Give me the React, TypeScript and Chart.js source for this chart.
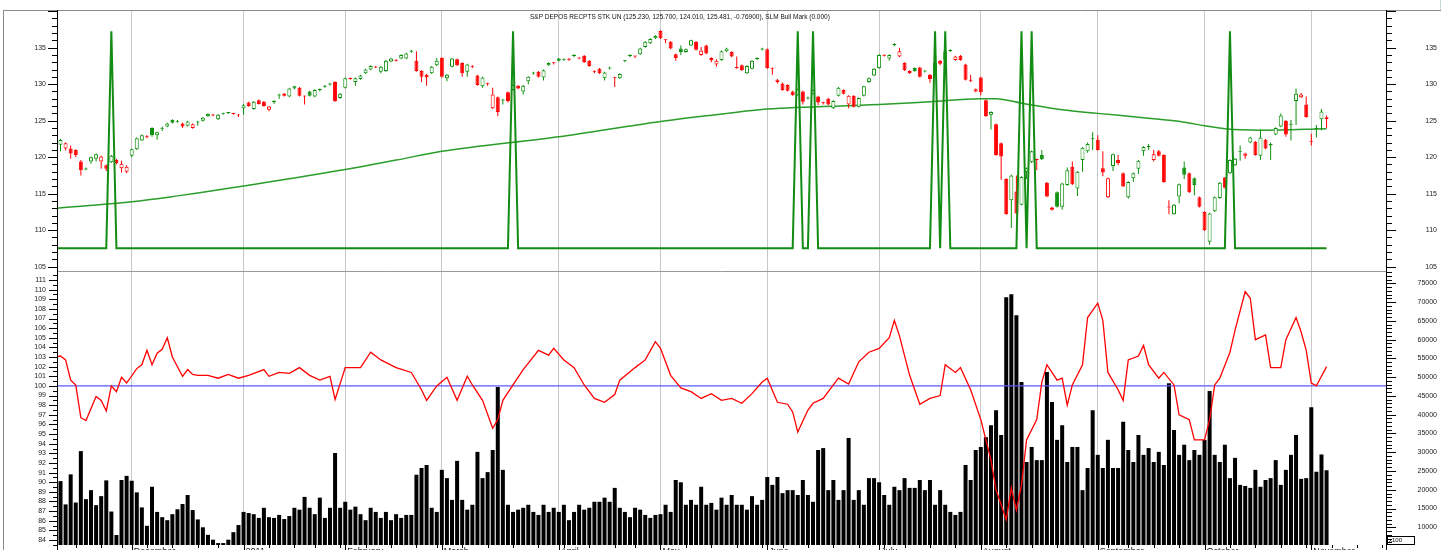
import React, { useEffect, useRef } from "react";
import { Chart, registerables } from "chart.js";

Chart.register(...registerables);

// ---------------- DATA ----------------
const TITLE =
  "S&P DEPOS RECPTS STK UN (125.230, 125.700, 124.010, 125.481, -0.76900), SLM Bull Mark (0.000)";

const FIRST_TRADING_DAY = [2010, 10, 9]; // 9 Nov 2010 (UTC y, m0, d)
const HOLIDAYS = [
  "2010-11-25", "2010-12-24", "2011-01-17", "2011-02-21", "2011-04-22",
  "2011-05-30", "2011-07-04", "2011-09-05", "2011-11-24",
];

const MONTH_LABELS = [
  "December", "2011", "February", "March", "April", "May", "June",
  "July", "August", "September", "October", "November",
];
const MONTH_START_IDX = [15, 37, 57, 76, 99, 119, 140, 162, 182, 205, 226, 247];

const PRICE_TICKS = [105, 110, 115, 120, 125, 130, 135];
const OSC_TICKS = [84, 85, 86, 87, 88, 89, 90, 91, 92, 93, 94, 95, 96, 97, 98, 99, 100,
  101, 102, 103, 104, 105, 106, 107, 108, 109, 110, 111];
const VOL_TICKS = [10000, 15000, 20000, 25000, 30000, 35000, 40000, 45000, 50000,
  55000, 60000, 65000, 70000, 75000];

const OPEN = [
  122.9, 121.7, 121.2, 121.2, 121.0, 119.4, 118.3, 119.4, 119.8, 119.4,
  118.9, 119.3, 119.6, 118.5, 118.0, 120.2, 121.1, 122.3, 122.85, 124.0,
  123.0, 123.9, 124.2, 125.1, 124.85, 124.6, 124.3, 124.0, 124.75, 125.0,
  125.6, 125.75, 125.2, 125.95, 126.05, 125.95, 125.75, 126.7, 127.5, 126.6,
  127.8, 127.6, 126.5, 127.55, 128.45, 128.7, 128.3, 129.4, 129.5, 128.35,
  129.0, 128.3, 129.2, 129.65, 129.95, 130.3, 128.1, 129.5, 130.75, 130.3,
  130.7, 131.5, 132.0, 132.35, 131.7, 131.8, 133.1, 133.25, 133.5, 133.5,
  134.45, 133.2, 131.8, 131.3, 131.5, 132.6, 133.6, 130.8, 132.4, 133.4,
  132.9, 131.7, 132.45, 131.2, 129.7, 130.05, 126.7, 128.2, 127.75, 128.9,
  129.2, 129.8, 129.0, 130.4, 131.45, 131.7, 130.9, 132.6, 132.9, 133.5,
  133.35, 133.4, 133.85, 133.55, 133.9, 133.2, 131.75, 132.1, 130.8, 132.15,
  130.85, 130.8, 133.15, 133.85, 133.85, 134.1, 135.1, 135.6, 136.3, 137.3,
  136.05, 135.8, 134.1, 134.9, 134.4, 135.3, 135.8, 134.0, 135.3, 133.6,
  132.7, 133.3, 134.5, 134.4, 132.25, 132.6, 131.5, 132.1, 133.45, 134.75,
  134.8, 132.15, 130.3, 130.1, 129.9, 129.0, 128.5, 129.0, 128.05, 128.7,
  128.3, 127.45, 128.0, 126.7, 128.4, 129.2, 127.2, 128.4, 126.9, 128.4,
  130.3, 131.2, 132.2, 133.95, 133.5, 135.35, 133.8, 132.9, 131.8, 132.2,
  132.3, 131.75, 131.3, 131.3, 133.2, 133.3, 134.55, 133.3, 133.9, 132.7,
  130.45, 129.0, 130.9, 127.8, 125.8, 124.5, 121.9, 117.0, 114.1, 115.3,
  113.5, 118.0, 119.3, 119.65, 120.3, 116.5, 113.1, 115.2, 113.2, 116.2,
  118.7, 115.7, 119.6, 120.8, 122.45, 122.4, 118.5, 114.5, 118.8, 119.6,
  117.8, 114.5, 117.1, 118.4, 120.8, 121.4, 119.6, 120.8, 120.3, 113.15,
  112.2, 114.6, 118.6, 117.8, 117.1, 114.5, 112.5, 108.4, 112.6, 114.4,
  117.2, 117.8, 118.9, 120.75, 120.2, 122.0, 122.1, 120.2, 122.4, 121.6,
  123.1, 124.2, 125.0, 124.45, 127.7, 128.2, 127.2, 122.15, 123.85, 125.2,
  125.23,
];
const HIGH = [
  123.2, 122.5, 122.0, 121.6, 121.1, 119.6, 118.6, 120.1, 120.5, 120.2,
  119.0, 120.3, 119.8, 119.5, 118.9, 121.2, 122.7, 123.1, 123.0, 124.1,
  123.5, 124.2, 124.7, 125.2, 125.1, 124.7, 125.0, 124.6, 125.0, 125.5,
  126.0, 125.9, 125.9, 126.1, 126.2, 126.1, 125.9, 127.3, 127.6, 127.7,
  127.9, 127.7, 127.0, 127.8, 128.7, 128.8, 129.5, 129.8, 129.6, 128.4,
  129.1, 129.3, 129.4, 129.9, 130.2, 130.4, 128.8, 130.9, 130.9, 130.9,
  131.3, 132.1, 132.6, 132.5, 132.5, 133.3, 133.6, 133.4, 134.1, 134.3,
  134.7, 134.5, 131.9, 131.4, 132.5, 133.6, 133.7, 131.4, 133.6, 133.5,
  133.0, 132.8, 132.6, 131.3, 131.0, 130.2, 129.5, 128.3, 128.0, 129.0,
  130.0, 129.9, 129.9, 131.1, 131.7, 131.8, 132.0, 133.0, 133.0, 133.6,
  133.5, 133.6, 134.1, 133.7, 134.0, 133.3, 131.9, 132.2, 131.7, 132.4,
  131.0, 131.5, 133.3, 134.1, 133.9, 135.0, 135.9, 136.3, 136.7, 137.4,
  136.2, 135.9, 134.2, 135.3, 134.9, 136.1, 135.9, 135.1, 135.4, 133.7,
  133.4, 134.6, 135.0, 134.5, 133.8, 132.7, 132.6, 133.3, 133.7, 135.0,
  134.9, 132.3, 130.7, 130.2, 130.0, 129.1, 129.4, 129.1, 128.3, 129.3,
  128.4, 127.6, 128.1, 127.8, 129.6, 129.3, 128.5, 128.5, 128.2, 129.8,
  130.9, 132.2, 134.1, 134.1, 134.1, 135.6, 135.0, 133.0, 131.9, 132.3,
  132.4, 131.9, 131.4, 133.0, 133.3, 134.6, 134.8, 133.9, 134.0, 132.8,
  131.3, 129.4, 131.0, 127.9, 126.3, 124.6, 122.0, 117.1, 117.6, 117.5,
  117.4, 118.6, 120.9, 119.8, 121.0, 116.6, 113.2, 115.3, 116.5, 118.6,
  119.4, 118.1, 121.4, 122.0, 123.4, 123.0, 120.8, 117.2, 120.5, 120.3,
  117.9, 116.7, 117.9, 119.6, 121.5, 121.8, 121.0, 121.0, 120.4, 114.1,
  113.6, 116.4, 119.4, 117.9, 117.2, 114.6, 112.6, 112.4, 114.6, 116.6,
  117.3, 119.7, 119.9, 121.6, 120.6, 122.8, 122.2, 123.8, 122.5, 122.0,
  124.1, 126.0, 125.1, 125.1, 129.4, 128.8, 128.3, 123.2, 124.4, 126.6,
  125.7,
];
const LOW = [
  121.4, 120.8, 120.9, 119.8, 120.0, 117.5, 118.2, 119.1, 119.4, 118.4,
  118.1, 119.2, 119.0, 117.9, 117.8, 120.0, 121.0, 122.2, 122.6, 122.8,
  122.4, 123.6, 124.1, 124.6, 124.7, 124.0, 124.2, 123.9, 124.3, 124.9,
  125.5, 125.6, 125.1, 125.8, 125.9, 125.8, 125.5, 125.8, 126.9, 126.5,
  127.2, 126.9, 126.3, 127.3, 128.0, 128.3, 128.2, 129.3, 128.3, 127.2,
  128.3, 128.2, 129.0, 129.5, 129.8, 127.6, 128.0, 129.4, 130.6, 129.8,
  130.6, 131.4, 131.9, 132.2, 131.5, 131.7, 133.0, 133.1, 133.4, 133.4,
  134.3, 131.7, 130.3, 129.8, 131.4, 132.5, 130.9, 130.4, 132.3, 132.5,
  131.0, 131.0, 132.2, 129.8, 129.5, 129.8, 126.6, 125.6, 127.2, 127.5,
  129.1, 129.3, 128.6, 130.0, 131.3, 130.9, 130.5, 132.5, 132.7, 133.1,
  133.2, 133.2, 133.7, 133.4, 132.9, 132.4, 131.5, 131.4, 130.5, 132.0,
  129.6, 130.7, 133.0, 133.7, 133.6, 134.0, 135.0, 135.5, 136.2, 136.2,
  135.6, 134.8, 133.2, 134.0, 134.3, 135.2, 134.6, 133.9, 134.1, 133.0,
  132.4, 133.2, 134.4, 133.7, 132.1, 131.8, 131.4, 132.0, 133.3, 134.6,
  132.1, 131.3, 130.1, 129.1, 129.0, 128.4, 128.4, 127.2, 127.9, 128.6,
  127.1, 127.2, 127.1, 126.6, 128.3, 128.6, 126.7, 126.8, 126.8, 128.3,
  130.2, 131.1, 132.1, 133.8, 133.2, 135.2, 133.7, 131.8, 131.4, 131.7,
  130.9, 131.6, 130.2, 131.2, 132.6, 133.2, 134.4, 133.2, 133.2, 130.5,
  130.3, 128.9, 128.5, 125.5, 123.8, 120.2, 116.9, 112.1, 110.3, 112.2,
  113.4, 117.0, 119.2, 118.2, 119.6, 114.5, 112.7, 113.1, 112.8, 116.1,
  116.2, 114.7, 118.0, 120.6, 121.0, 120.9, 117.4, 114.4, 118.1, 118.9,
  115.9, 114.3, 116.6, 117.7, 120.2, 121.0, 119.4, 120.1, 116.5, 112.2,
  112.1, 113.7, 117.0, 115.1, 114.8, 113.1, 109.9, 108.0, 112.5, 114.3,
  115.7, 117.7, 118.8, 119.5, 119.8, 121.9, 120.2, 119.6, 121.1, 119.6,
  123.0, 124.1, 122.8, 122.3, 124.4, 128.1, 125.4, 121.6, 122.7, 123.7,
  124.01,
];
const CLOSE = [
  122.1, 122.35, 121.9, 120.5, 120.3, 118.2, 118.4, 120.0, 120.4, 120.1,
  118.4, 120.2, 119.2, 119.1, 118.7, 121.1, 122.6, 123.0, 122.8, 123.0,
  123.4, 124.0, 124.6, 124.7, 124.9, 124.2, 124.9, 124.5, 124.8, 125.4,
  125.9, 125.7, 125.8, 126.0, 126.1, 125.9, 125.7, 127.1, 127.0, 127.6,
  127.3, 127.0, 126.95, 127.6, 128.5, 128.4, 129.4, 129.7, 128.4, 128.3,
  128.4, 129.2, 129.25, 129.7, 130.0, 127.7, 128.7, 130.8, 130.7, 130.8,
  131.2, 132.0, 132.5, 132.3, 132.4, 133.2, 133.5, 133.2, 134.0, 134.2,
  134.5, 131.8, 131.0, 130.9, 132.4, 133.2, 131.0, 131.3, 133.5, 132.6,
  131.5, 132.7, 132.4, 129.9, 130.9, 130.0, 128.6, 126.2, 127.8, 127.7,
  129.9, 129.4, 129.8, 131.0, 131.5, 131.0, 131.9, 132.9, 132.85, 133.2,
  133.4, 133.35, 133.9, 133.5, 133.0, 132.5, 131.7, 131.5, 131.6, 132.2,
  130.8, 131.4, 133.2, 133.9, 133.8, 134.9, 135.8, 136.2, 136.6, 136.3,
  136.0, 134.9, 133.6, 134.4, 134.8, 136.0, 134.7, 134.6, 134.2, 133.3,
  133.2, 134.5, 134.9, 133.8, 132.2, 131.9, 132.5, 133.2, 133.5, 134.8,
  132.2, 132.1, 130.6, 129.2, 129.1, 128.5, 129.3, 127.6, 128.1, 129.2,
  127.5, 127.4, 127.2, 127.7, 129.5, 128.7, 128.4, 126.9, 128.1, 129.7,
  130.8, 132.1, 134.0, 133.9, 134.0, 135.4, 134.5, 131.9, 131.5, 131.8,
  131.0, 131.8, 130.7, 132.9, 132.8, 134.5, 134.6, 133.8, 133.3, 130.6,
  130.4, 129.3, 128.9, 125.6, 126.2, 120.3, 120.1, 112.2, 117.5, 112.3,
  117.3, 118.5, 120.8, 119.6, 119.7, 114.6, 112.8, 113.2, 116.4, 118.2,
  116.3, 118.0, 121.3, 121.8, 122.5, 121.0, 117.9, 117.1, 120.4, 119.2,
  116.0, 116.6, 117.8, 119.5, 121.4, 121.45, 120.4, 120.2, 116.6, 113.1,
  113.5, 116.3, 117.6, 115.2, 116.2, 113.2, 110.0, 112.3, 114.5, 116.5,
  115.8, 119.6, 119.8, 120.8, 120.5, 122.7, 120.3, 122.7, 121.2, 121.8,
  124.0, 125.7, 123.1, 124.5, 128.7, 128.6, 125.5, 122.1, 123.9, 126.25,
  125.481,
];

// volume in hundreds of shares (axis labelled x100)
const VOLUME = [
  20000, 22300, 16100, 24100, 16600, 30300, 17500, 19900, 15900, 18300,
  22500, 14200, 7950, 22600, 23700, 22400, 19300, 15300, 10400, 20800,
  14100, 12700, 11900, 13500, 14800, 16200, 18600, 14600, 12100, 10000,
  8000, 6700, 5800, 5800, 6700, 8700, 10600, 14100, 13800, 13500,
  12500, 15200, 12700, 12500, 13300, 12200, 13000, 15200, 14700, 18100,
  15200, 13500, 17900, 12500, 15200, 29800, 15200, 16800, 14700, 15500,
  13500, 11900, 15200, 14100, 12500, 14100, 11900, 13500, 12500, 13300,
  13300, 24000, 25800, 26600, 15200, 14100, 25300, 23100, 17300, 27700,
  17300, 14700, 16000, 30100, 23100, 24700, 30600, 47400, 25300, 16000,
  14100, 14700, 15200, 16000, 14100, 13300, 16000, 14100, 15200, 14100,
  16000, 11900, 14100, 16000, 14700, 15200, 16800, 16800, 17900, 16800,
  20500, 15200, 14100, 12700, 15200, 14700, 13300, 12500, 13300, 13500,
  16000, 14100, 22600, 22000, 16000, 17300, 16000, 20800, 16000, 16500,
  14700, 17900, 16000, 18600, 16000, 16000, 14700, 18300, 16000, 17300,
  23400, 21300, 23400, 19100, 19900, 19900, 18600, 22600, 18600, 16800,
  30600, 31100, 19900, 22600, 17300, 19900, 33800, 17300, 19900, 16000,
  23100, 23100, 22000, 18600, 16000, 20800, 19900, 23100, 20500, 20500,
  22600, 19900, 22600, 16000, 19900, 16000, 14100, 13300, 14100, 26600,
  22600, 30600, 31400, 34000, 37200, 41200, 34600, 71300, 72100, 66500,
  48700, 27400, 31400, 27900, 27900, 51400, 43400, 33300, 37200, 27400,
  31400, 31400, 19900, 25800, 41200, 29300, 25800, 33300, 25800, 25800,
  38100, 30600, 27400, 34600, 29300, 31100, 27400, 30100, 26600, 48400,
  35900, 29300, 32000, 27900, 30600, 29300, 33300, 46300, 29300, 27400,
  32000, 23100, 28500, 21300, 21000, 20500, 25300, 20800, 22600, 23100,
  27900, 21300, 25300, 29300, 34600, 22900, 23100, 42000, 24800, 29400,
  25200,
];

// long moving average, read at [day index, value]
const SMA_POINTS: [number, number][] = [
  [0, 113.0], [15, 113.9], [24, 114.7], [28, 115.1], [37, 116.05], [57, 118.3],
  [67, 119.6], [76, 120.8], [99, 122.8], [119, 124.9], [132, 126.0], [140, 126.6],
  [162, 127.2], [172, 127.6], [182, 128.0], [185, 128.0], [190, 127.4], [198, 126.5],
  [205, 126.0], [214, 125.4], [222, 124.8], [226, 124.3], [230, 123.9], [237, 123.7],
  [250, 123.9],
];

// SLM Bull Mark: days on which the signal fired (value 1, otherwise 0)
const SLM_SIGNAL_IDX = [11, 90, 146, 149, 173, 175, 190, 192, 231];

// oscillator (left axis of the lower panel), read at [day index, value]
const OSC_POINTS: [number, number][] = [
  [0, 103.0], [1, 103.1], [2, 102.7], [3, 100.6], [4, 100.1], [5, 96.7], [6, 96.4],
  [8, 98.9], [9, 98.5], [10, 97.4], [11, 100.0], [12, 99.4], [13, 100.9], [14, 100.3],
  [16, 101.8], [17, 102.2], [18, 103.7], [19, 102.2], [20, 103.4], [21, 103.8],
  [22, 105.0], [23, 103.0], [25, 101.0], [26, 101.7], [27, 101.2], [28, 101.1],
  [30, 101.1], [32, 100.8], [34, 101.2], [36, 100.8], [38, 101.1], [41, 101.7],
  [42, 101.0], [44, 101.4], [46, 101.3], [48, 101.9], [50, 101.1], [52, 100.6],
  [54, 101.0], [55, 98.6], [57, 101.9], [60, 101.9], [62, 103.5], [64, 102.7],
  [67, 101.9], [70, 101.4], [72, 99.6], [73, 98.5], [75, 100.0], [77, 100.9],
  [79, 98.5], [81, 101.0], [82, 100.1], [84, 98.5], [86, 95.6], [87, 96.5],
  [88, 98.5], [90, 100.1], [92, 101.7], [95, 103.7], [97, 103.2], [98, 103.9],
  [100, 102.7], [102, 101.9], [104, 100.1], [106, 98.7], [108, 98.3], [110, 99.1],
  [111, 100.6], [114, 101.9], [116, 102.7], [118, 104.6], [119, 103.9], [121, 101.1],
  [123, 99.8], [125, 99.4], [127, 98.7], [129, 99.2], [131, 98.5], [133, 98.7],
  [135, 98.2], [137, 99.2], [139, 100.4], [140, 100.8], [142, 98.3], [144, 98.1],
  [145, 97.3], [146, 95.2], [148, 97.5], [149, 98.2], [151, 98.7], [152, 99.4],
  [154, 100.8], [156, 100.2], [158, 102.5], [160, 103.5], [162, 103.9], [164, 105.0],
  [165, 106.8], [166, 105.2], [168, 101.1], [169, 99.6], [170, 98.1], [172, 98.7],
  [174, 99.0], [175, 102.2], [177, 101.4], [178, 101.9], [180, 99.6], [182, 96.5],
  [184, 92.3], [185, 89.2], [187, 86.1], [188, 89.4], [189, 87.1], [190, 89.7],
  [191, 94.4], [193, 96.5], [194, 100.4], [195, 102.2], [197, 100.6], [198, 100.8],
  [199, 98.0], [200, 100.1], [202, 102.2], [203, 107.1], [205, 108.6], [206, 106.8],
  [207, 101.4], [209, 99.6], [210, 98.5], [211, 102.7], [213, 103.1], [214, 104.2],
  [215, 102.2], [217, 100.8], [218, 101.4], [220, 100.1], [221, 97.0], [223, 96.5],
  [224, 94.4], [226, 94.4], [227, 96.5], [228, 100.1], [229, 100.8], [231, 103.5],
  [232, 105.8], [234, 109.8], [235, 109.1], [236, 104.8], [238, 105.3], [239, 101.9],
  [241, 101.9], [242, 104.8], [244, 107.1], [245, 105.6], [246, 103.7], [247, 100.3],
  [248, 100.0], [249, 101.0], [250, 102.0],
];
const OSC_REFERENCE = 100;

// ---------------- LAYOUT / STYLE ----------------
const X_MIN = 0.31;
const X_MAX = 261.69;
const PRICE_MIN = 104.41;
const PRICE_MAX = 140.16;
const SLM_MIN = -0.1046;
const SLM_MAX = 1.0977;
const OSC_MIN = 83.48;
const OSC_MAX = 111.83;
const VOL_MIN = 5285;
const VOL_MAX = 78010;

const GREEN = "#0c900c";
const RED = "#ff0000";
const GRID = "#c8c8c8";
const FONT = "Liberation Sans, Arial, sans-serif";
const LABEL_COLOR = "#222";

function tradingDays(n: number): Date[] {
  const out: Date[] = [];
  const d = new Date(Date.UTC(FIRST_TRADING_DAY[0], FIRST_TRADING_DAY[1], FIRST_TRADING_DAY[2]));
  while (out.length < n) {
    const dow = d.getUTCDay();
    const iso = d.toISOString().slice(0, 10);
    if (dow !== 0 && dow !== 6 && !HOLIDAYS.includes(iso)) out.push(new Date(d.getTime()));
    d.setUTCDate(d.getUTCDate() + 1);
  }
  return out;
}

function hline(ctx: CanvasRenderingContext2D, x1: number, x2: number, y: number) {
  ctx.beginPath();
  ctx.moveTo(x1, Math.round(y) + 0.5);
  ctx.lineTo(x2, Math.round(y) + 0.5);
  ctx.stroke();
}
function vline(ctx: CanvasRenderingContext2D, x: number, y1: number, y2: number) {
  ctx.beginPath();
  ctx.moveTo(Math.round(x) + 0.5, y1);
  ctx.lineTo(Math.round(x) + 0.5, y2);
  ctx.stroke();
}

function drawYTicks(
  ctx: CanvasRenderingContext2D, scale: any, side: "left" | "right", axisX: number,
  from: number, to: number, step: number, majorEvery: number, majorLen: number, minorLen: number
) {
  ctx.strokeStyle = "#000";
  ctx.lineWidth = 1;
  for (let v = from; v <= to + 1e-9; v += step) {
    const y = scale.getPixelForValue(v);
    if (y < scale.top - 0.5 || y > scale.bottom + 0.5) continue;
    const ratio = v / majorEvery;
    const major = Math.abs(ratio - Math.round(ratio)) < 1e-6;
    const len = major ? majorLen : minorLen;
    if (side === "left") hline(ctx, axisX - len, axisX + 1, y);
    else hline(ctx, axisX, axisX + len + 1, y);
  }
}

// force exact axis box sizes (no extra label padding)
function fixSize(w: number | null, h: number | null) {
  return (s: any) => {
    if (w !== null) s.width = w;
    if (h !== null) s.height = h;
    s.paddingTop = 0;
    s.paddingBottom = 0;
    s.paddingLeft = 0;
    s.paddingRight = 0;
  };
}

export default function App() {
  const topRef = useRef<HTMLCanvasElement>(null);
  const botRef = useRef<HTMLCanvasElement>(null);

  useEffect(() => {
    const n = CLOSE.length;
    const days = tradingDays(n + 20);
    const weekStarts: number[] = [];
    for (let i = 1; i < days.length; i++) {
      if (days[i].getUTCDay() <= days[i - 1].getUTCDay()) weekStarts.push(i);
    }

    const colors = CLOSE.map((c, i) => {
      const prev = i === 0 ? OPEN[0] : CLOSE[i - 1];
      return c > prev ? GREEN : RED;
    });
    const fills = CLOSE.map((c, i) => (c > OPEN[i] ? "#ffffff" : colors[i]));
    const bodies = CLOSE.map((c, i) => ({ x: i, y: [Math.min(OPEN[i], c), Math.max(OPEN[i], c)] }));
    const wicks = CLOSE.map((_, i) => ({ x: i, y: [LOW[i], HIGH[i]] }));
    const sma = SMA_POINTS.map(([x, y]) => ({ x, y }));
    const slm = CLOSE.map((_, i) => ({ x: i, y: SLM_SIGNAL_IDX.includes(i) ? 1 : 0 }));
    const osc = OSC_POINTS.map(([x, y]) => ({ x, y }));
    const vol = VOLUME.map((v, i) => ({ x: i, y: v }));

    const monthTicks = (s: any) => {
      s.ticks = MONTH_START_IDX.map((v) => ({ value: v }));
    };

    const topDecor = {
      id: "topDecor",
      afterDraw(chart: any) {
        const ctx: CanvasRenderingContext2D = chart.ctx;
        const ca = chart.chartArea;
        ctx.save();
        ctx.lineWidth = 1;
        ctx.strokeStyle = "#8a8a8a";
        vline(ctx, 3, ca.top, chart.height);
        hline(ctx, 3, 1441, ca.top);
        ctx.strokeStyle = "#c9d6d6";
        vline(ctx, 1440, 0, ca.top);
        ctx.strokeStyle = "#999";
        hline(ctx, ca.left, ca.right, ca.bottom);
        ctx.strokeStyle = "#000";
        vline(ctx, ca.left, ca.top, chart.height);
        vline(ctx, ca.right, ca.top, chart.height);
        const ys = chart.scales.y;
        drawYTicks(ctx, ys, "left", ca.left, 104, 141, 1, 5, 9, 5);
        drawYTicks(ctx, ys, "right", ca.right, 104, 141, 1, 5, 9, 5);
        ctx.fillStyle = "#111";
        ctx.font = `6.5px ${FONT}`;
        ctx.textBaseline = "middle";
        ctx.textAlign = "left";
        ctx.fillText(TITLE, 530, 17.5);
        ctx.restore();
      },
    };

    const botDecor = {
      id: "botDecor",
      afterDraw(chart: any) {
        const ctx: CanvasRenderingContext2D = chart.ctx;
        const ca = chart.chartArea;
        ctx.save();
        ctx.lineWidth = 1;
        ctx.strokeStyle = "#8a8a8a";
        vline(ctx, 3, 0, chart.height);
        ctx.strokeStyle = "#000";
        vline(ctx, ca.left, 0, chart.height);
        vline(ctx, ca.right, 0, chart.height);
        drawYTicks(ctx, chart.scales.yOsc, "left", ca.left, 83.5, 111.5, 0.5, 1, 8, 4);
        drawYTicks(ctx, chart.scales.yVol, "right", ca.right, 6000, 78000, 1000, 5000, 9, 5);
        const xs = chart.scales.x;
        ctx.strokeStyle = "#000";
        for (const i of weekStarts) {
          if (i < X_MIN || i > X_MAX) continue;
          const px = xs.getPixelForValue(i);
          vline(ctx, px, ca.bottom, ca.bottom + 3);
        }
        for (const i of MONTH_START_IDX) {
          const px = xs.getPixelForValue(i);
          vline(ctx, px, ca.bottom, ca.bottom + 6);
        }
        ctx.strokeStyle = "#000";
        ctx.strokeRect(1387.5, ca.bottom - 8.5, 27, 8);
        ctx.fillStyle = "#000";
        ctx.font = `6px ${FONT}`;
        ctx.textBaseline = "middle";
        ctx.textAlign = "left";
        ctx.fillText("x100", 1389, ca.bottom - 4.3);
        ctx.restore();
      },
    };

    const yTickFont = { family: FONT, size: 7 };

    const top = new Chart(topRef.current as HTMLCanvasElement, {
      type: "bar",
      data: {
        datasets: [
          {
            type: "line", label: "SLM Bull Mark", data: slm, yAxisID: "ySlm",
            borderColor: "#128c12", borderWidth: 2, pointRadius: 0, tension: 0, order: 0,
          } as any,
          {
            type: "bar", label: "body", data: bodies, yAxisID: "y",
            backgroundColor: fills, borderColor: colors, borderWidth: 1, borderSkipped: false,
            grouped: false, barThickness: 4, maxBarThickness: 4, minBarLength: 1,
            inflateAmount: 0, order: 1,
          } as any,
          {
            type: "bar", label: "wick", data: wicks, yAxisID: "y",
            backgroundColor: colors, borderWidth: 0, grouped: false, barThickness: 1,
            maxBarThickness: 1, inflateAmount: 0, order: 2,
          } as any,
          {
            type: "line", label: "SMA", data: sma, yAxisID: "y",
            borderColor: "#2a9d2a", borderWidth: 1.5, pointRadius: 0,
            cubicInterpolationMode: "monotone", order: 3,
          } as any,
        ],
      },
      options: {
        responsive: false,
        animation: false,
        devicePixelRatio: 1,
        events: [],
        layout: { padding: { left: 0, right: 8, top: 10, bottom: 1 } },
        plugins: { legend: { display: false }, tooltip: { enabled: false } },
        scales: {
          x: {
            type: "linear", min: X_MIN, max: X_MAX, offset: false,
            grid: { color: GRID, drawTicks: false, offset: false },
            border: { display: false },
            ticks: { display: false, autoSkip: false },
            afterBuildTicks: monthTicks,
            afterFit: fixSize(null, 0),
          },
          y: {
            position: "left", min: PRICE_MIN, max: PRICE_MAX,
            grid: { display: false, drawTicks: false },
            border: { display: false },
            ticks: { font: yTickFont, color: LABEL_COLOR, padding: 11, autoSkip: false },
            afterBuildTicks: (s: any) => { s.ticks = PRICE_TICKS.map((v) => ({ value: v })); },
            afterFit: fixSize(57, null),
          },
          yRight: {
            position: "right", min: PRICE_MIN, max: PRICE_MAX,
            grid: { display: false, drawTicks: false },
            border: { display: false },
            ticks: { font: yTickFont, color: LABEL_COLOR, crossAlign: "far", padding: 0, autoSkip: false },
            afterBuildTicks: (s: any) => { s.ticks = PRICE_TICKS.map((v) => ({ value: v })); },
            afterFit: fixSize(51, null),
          },
          ySlm: { display: false, min: SLM_MIN, max: SLM_MAX },
        },
      } as any,
      plugins: [topDecor],
    });

    const bot = new Chart(botRef.current as HTMLCanvasElement, {
      type: "bar",
      data: {
        datasets: [
          {
            type: "line", label: "oscillator", data: osc, yAxisID: "yOsc",
            borderColor: "#ff0000", borderWidth: 1.3, pointRadius: 0, tension: 0, order: 0,
          } as any,
          {
            type: "line", label: "reference", yAxisID: "yOsc",
            data: [{ x: X_MIN, y: OSC_REFERENCE }, { x: X_MAX, y: OSC_REFERENCE }],
            borderColor: "#5a5aff", borderWidth: 1.2, pointRadius: 0, order: 1,
          } as any,
          {
            type: "bar", label: "volume", data: vol, yAxisID: "yVol",
            backgroundColor: "#000", borderWidth: 0, grouped: false, barThickness: 4,
            maxBarThickness: 4, inflateAmount: 0, order: 2,
          } as any,
        ],
      },
      options: {
        responsive: false,
        animation: false,
        devicePixelRatio: 1,
        events: [],
        layout: { padding: { left: 0, right: 8, top: 0, bottom: 0 } },
        plugins: { legend: { display: false }, tooltip: { enabled: false } },
        scales: {
          x: {
            type: "linear", min: X_MIN, max: X_MAX, offset: false,
            grid: { color: GRID, drawTicks: false, offset: false },
            border: { display: false },
            ticks: {
              display: true, autoSkip: false, maxRotation: 0, minRotation: 0,
              align: "start", labelOffset: 2, padding: 1,
              font: { family: FONT, size: 9 }, color: LABEL_COLOR,
              callback: (v: any) => {
                const k = MONTH_START_IDX.indexOf(Number(v));
                return k >= 0 ? MONTH_LABELS[k] : "";
              },
            },
            afterBuildTicks: monthTicks,
            afterFit: fixSize(null, 5),
          },
          yOsc: {
            position: "left", min: OSC_MIN, max: OSC_MAX,
            grid: { display: false, drawTicks: false },
            border: { display: false },
            ticks: { font: yTickFont, color: LABEL_COLOR, padding: 11, autoSkip: false },
            afterBuildTicks: (s: any) => { s.ticks = OSC_TICKS.map((v) => ({ value: v })); },
            afterFit: fixSize(57, null),
          },
          yVol: {
            position: "right", min: VOL_MIN, max: VOL_MAX,
            grid: { display: false, drawTicks: false },
            border: { display: false },
            ticks: {
              font: yTickFont, color: LABEL_COLOR, crossAlign: "far", padding: 0, autoSkip: false,
              callback: (v: any) => String(v),
            },
            afterBuildTicks: (s: any) => { s.ticks = VOL_TICKS.map((v) => ({ value: v })); },
            afterFit: fixSize(51, null),
          },
        },
      } as any,
      plugins: [botDecor],
    });

    return () => {
      top.destroy();
      bot.destroy();
    };
  }, []);

  return (
    <div
      style={{
        position: "fixed", left: 0, top: 0, width: 1445, height: 550,
        background: "#fff", overflow: "hidden",
      }}
    >
      <canvas ref={topRef} width={1445} height={272}
        style={{ position: "absolute", left: 0, top: 0 }} />
      <canvas ref={botRef} width={1445} height={278}
        style={{ position: "absolute", left: 0, top: 272 }} />
    </div>
  );
}
